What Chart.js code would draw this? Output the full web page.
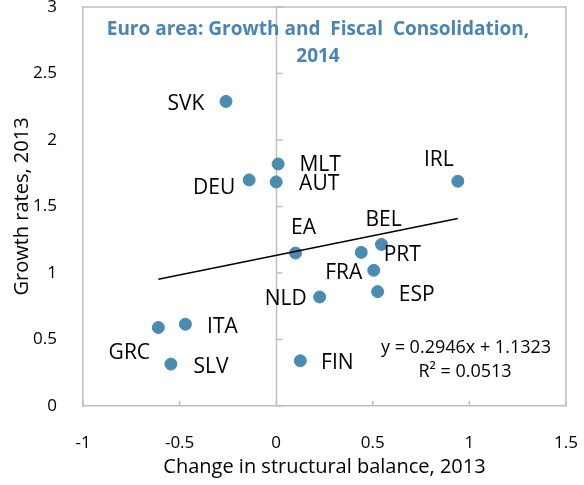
<!DOCTYPE html>
<html>
<head>
<meta charset="utf-8">
<script src="https://cdn.jsdelivr.net/npm/chart.js@4/dist/chart.umd.min.js"></script>
<style>
  html, body { margin: 0; padding: 0; background: #fff; }
  #wrap { width: 584px; height: 485px; }
</style>
</head>
<body>
<div id="wrap"><canvas id="c" width="584" height="485"></canvas></div>
<script>
// Euro area countries: change in structural balance vs. growth rate, 2013
const countries = ['SVK', 'MLT', 'AUT', 'DEU', 'IRL', 'EA', 'BEL', 'PRT', 'FRA', 'ESP', 'NLD', 'FIN', 'ITA', 'GRC', 'SLV'];
const structuralChange = [-0.26, 0.01, 0.0, -0.14, 0.94, 0.10, 0.545, 0.44, 0.505, 0.525, 0.225, 0.125, -0.47, -0.61, -0.545];
const growthRates = [2.29, 1.82, 1.685, 1.70, 1.69, 1.15, 1.215, 1.155, 1.02, 0.86, 0.82, 0.34, 0.615, 0.59, 0.315];

// Linear trend fitted to the country points
const trendSlope = 0.2946;
const trendIntercept = 1.1323;
const trendRange = [-0.61, 0.94];
const rSquared = 0.0513;

const xTicks = [-1, -0.5, 0, 0.5, 1, 1.5];
const yTicks = [0, 0.5, 1, 1.5, 2, 2.5, 3];

// Where each country label sits relative to its marker (px)
const labelPlacement = {
  SVK: [-40, 3], MLT: [42, 1], AUT: [43, 2], DEU: [-35, 8], IRL: [-19, -21],
  EA: [8, -25], BEL: [2, -24], PRT: [41, 3], FRA: [-30, 3], ESP: [39, 3],
  NLD: [-34, 2], FIN: [37, 2], ITA: [37, 3], GRC: [-29, 25], SLV: [40, 3]
};

const FONT = "'Open Sans', 'Noto Sans', sans-serif";
const DOT = '#4a8bb0';
const FRAME = '#bfbfbf';

const points = structuralChange.map((x, i) => ({ x, y: growthRates[i] }));
const trendPoints = trendRange.map(x => ({ x, y: trendSlope * x + trendIntercept }));

const decorations = {
  id: 'decorations',
  beforeDatasetsDraw(chart) {
    const { ctx, chartArea: a, scales: { x, y } } = chart;
    ctx.save();
    ctx.strokeStyle = FRAME;
    ctx.lineWidth = 1.5;
    // top and right frame
    ctx.beginPath();
    ctx.moveTo(a.left, a.top); ctx.lineTo(a.right, a.top); ctx.lineTo(a.right, a.bottom);
    ctx.stroke();
    // vertical axis through x = 0 with its tick marks
    const x0 = Math.round(x.getPixelForValue(0)) + 0.5;
    ctx.beginPath();
    ctx.moveTo(x0, a.top); ctx.lineTo(x0, a.bottom);
    yTicks.forEach(v => {
      const py = y.getPixelForValue(v);
      ctx.moveTo(x0, py); ctx.lineTo(x0 + 6, py);
    });
    // tick marks on the horizontal axis
    xTicks.forEach(v => {
      const px = x.getPixelForValue(v);
      ctx.moveTo(px, a.bottom); ctx.lineTo(px, a.bottom - 5);
    });
    ctx.stroke();
    ctx.restore();
  },
  afterDatasetsDraw(chart) {
    const { ctx } = chart;
    const meta = chart.getDatasetMeta(1);
    ctx.save();
    // country labels
    ctx.fillStyle = '#000';
    ctx.font = `21px ${FONT}`;
    ctx.textAlign = 'center';
    ctx.textBaseline = 'middle';
    meta.data.forEach((el, i) => {
      const off = labelPlacement[countries[i]];
      ctx.fillText(countries[i], el.x + off[0], el.y + off[1]);
    });
    // chart title inside the plot
    ctx.fillStyle = '#4a84b4';
    ctx.font = `bold 19px ${FONT}`;
    ctx.fillText('Euro area: Growth and  Fiscal  Consolidation,', 318, 30);
    ctx.fillText('2014', 318, 57);
    // trend equation
    ctx.fillStyle = '#000';
    ctx.font = `18px ${FONT}`;
    ctx.fillText(`y = ${trendSlope}x + ${trendIntercept}`, 466, 348);
    ctx.fillText(`R\u00b2 = ${rSquared.toFixed(4)}`, 465, 372);
    ctx.restore();
  }
};

const plain = v => String(v);

new Chart(document.getElementById('c'), {
  type: 'scatter',
  data: {
    datasets: [
      {
        type: 'line',
        data: trendPoints,
        borderColor: '#000',
        borderWidth: 1.5,
        pointRadius: 0,
        fill: false
      },
      {
        data: points,
        backgroundColor: DOT,
        borderColor: DOT,
        pointRadius: 6,
        pointHoverRadius: 6
      }
    ]
  },
  options: {
    responsive: false,
    animation: false,
    events: [],
    layout: { padding: { left: 0, top: 7, right: 18, bottom: 0 } },
    plugins: { legend: { display: false }, tooltip: { enabled: false } },
    scales: {
      x: {
        type: 'linear',
        min: -1, max: 1.5,
        afterBuildTicks: s => { s.ticks = xTicks.map(v => ({ value: v })); },
        afterFit: s => { s.height = 79; s.paddingLeft = 0; s.paddingRight = 0; },
        grid: { display: false },
        border: { display: true, color: FRAME, width: 1.5 },
        ticks: { color: '#000', padding: 19, callback: plain, font: { family: FONT, size: 17 } },
        title: {
          display: true,
          text: 'Change in structural balance, 2013',
          color: '#000',
          font: { family: FONT, size: 20 },
          padding: { top: 0, bottom: 6 }
        }
      },
      y: {
        type: 'linear',
        min: 0, max: 3,
        afterBuildTicks: s => { s.ticks = yTicks.map(v => ({ value: v })); },
        afterFit: s => { s.width = 83; s.paddingTop = 0; s.paddingBottom = 0; },
        grid: { display: false },
        border: { display: true, color: FRAME, width: 1.5 },
        ticks: { color: '#000', padding: 18, callback: plain, font: { family: FONT, size: 17 } },
        title: {
          display: true,
          text: 'Growth rates, 2013',
          color: '#000',
          font: { family: FONT, size: 20 },
          padding: { top: 10, bottom: 0 }
        }
      }
    }
  },
  plugins: [decorations]
});
</script>
</body>
</html>
